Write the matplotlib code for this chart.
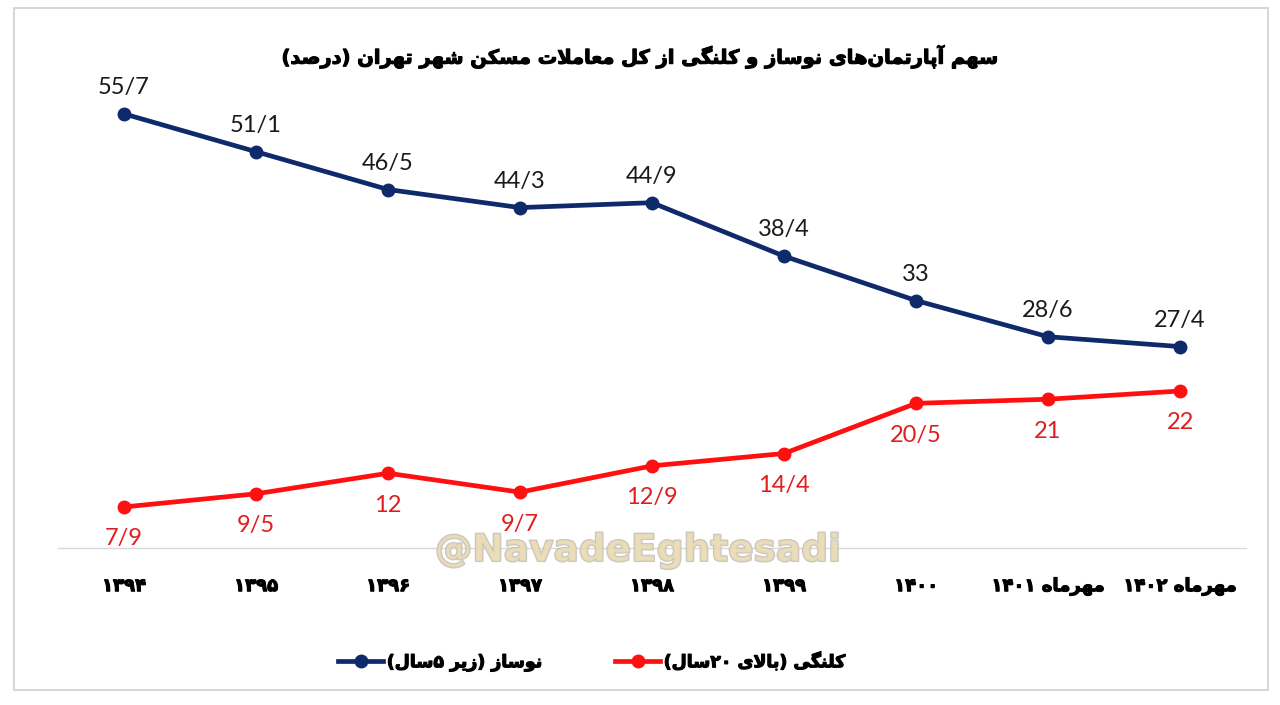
import re
import matplotlib
matplotlib.use('Agg')
import matplotlib.pyplot as plt
import matplotlib.patheffects as pe
from matplotlib.patches import Rectangle

# ---- data ----
categories = ['۱۳۹۴', '۱۳۹۵', '۱۳۹۶', '۱۳۹۷', '۱۳۹۸', '۱۳۹۹', '۱۴۰۰', 'مهرماه ۱۴۰۱', 'مهرماه ۱۴۰۲']
new_vals = [55.7, 51.1, 46.5, 44.3, 44.9, 38.4, 33, 28.6, 27.4]
old_vals = [7.9, 9.5, 12, 9.7, 12.9, 14.4, 20.5, 21, 22]
new_name = 'نوساز (زیر ۵سال)'
old_name = 'کلنگی (بالای ۲۰سال)'
title = 'سهم آپارتمان\u200cهای نوساز و کلنگی از کل معاملات مسکن شهر تهران (درصد)'

NAVY = '#0f2a6b'
RED = '#ff1010'


# ---- tiny persian shaper (matplotlib has no RTL/joining support) ----
def _f4(b):
    return tuple(chr(b + i) for i in range(4))


def _f2(b):
    return (chr(b), chr(b + 1), None, None)


FORMS = {
    'ا': _f2(0xFE8D), 'آ': _f2(0xFE81), 'ب': _f4(0xFE8F), 'پ': _f4(0xFB56),
    'ت': _f4(0xFE95), 'ث': _f4(0xFE99), 'ج': _f4(0xFE9D), 'چ': _f4(0xFB7A),
    'ح': _f4(0xFEA1), 'خ': _f4(0xFEA5), 'د': _f2(0xFEA9), 'ذ': _f2(0xFEAB),
    'ر': _f2(0xFEAD), 'ز': _f2(0xFEAF), 'ژ': _f2(0xFB8A), 'س': _f4(0xFEB1),
    'ش': _f4(0xFEB5), 'ص': _f4(0xFEB9), 'ض': _f4(0xFEBD), 'ط': _f4(0xFEC1),
    'ظ': _f4(0xFEC5), 'ع': _f4(0xFEC9), 'غ': _f4(0xFECD), 'ف': _f4(0xFED1),
    'ق': _f4(0xFED5), 'ک': _f4(0xFB8E), 'گ': _f4(0xFB92), 'ل': _f4(0xFEDD),
    'م': _f4(0xFEE1), 'ن': _f4(0xFEE5), 'ه': _f4(0xFEE9), 'و': _f2(0xFEED),
    'ی': _f4(0xFBFC),
}


def _joins_next(c):
    return c in FORMS and FORMS[c][2] is not None


def shape(s):
    out = []
    i = 0
    n = len(s)
    while i < n:
        c = s[i]
        if c not in FORMS:
            if c != '\u200c':
                out.append(c)
            i += 1
            continue
        jp = i > 0 and _joins_next(s[i - 1])
        if c == 'ل' and i + 1 < n and s[i + 1] in 'اآ':
            base = 0xFEFB if s[i + 1] == 'ا' else 0xFEF5
            out.append(chr(base + (1 if jp else 0)))
            i += 2
            continue
        jn = _joins_next(c) and i + 1 < n and s[i + 1] in FORMS
        f = FORMS[c]
        if jp and jn:
            g = f[3]
        elif jp:
            g = f[1]
        elif jn:
            g = f[2]
        else:
            g = f[0]
        out.append(g)
        i += 1
    return ''.join(out)


def fa(s):
    toks = re.findall(r'[0-9۰-۹]+|.', shape(s))
    toks.reverse()
    swap = {'(': ')', ')': '('}
    return ''.join(swap.get(t, t) for t in toks)


heavy = [pe.withStroke(linewidth=0.8, foreground='black')]

# ---- figure ----
fig = plt.figure(figsize=(12.8, 7.05), dpi=100)
fig.patch.set_facecolor('white')
fig.patches.append(Rectangle((14 / 1280, 1 - 690 / 705), 1254 / 1280, 682 / 705,
                             transform=fig.transFigure, fill=False,
                             edgecolor='#d0d0d0', linewidth=1.2))

ax = fig.add_axes([58 / 1280, 157 / 705, 1188 / 1280, 458 / 705])
ax.set_xlim(-0.5, len(categories) - 0.5)
ax.set_ylim(2.91, 58.6)
for s in ['top', 'right', 'left']:
    ax.spines[s].set_visible(False)
ax.spines['bottom'].set_color('#d9d9d9')
ax.spines['bottom'].set_linewidth(1.0)
ax.set_yticks([])

x = list(range(len(categories)))
ax.plot(x, new_vals, color=NAVY, lw=3.4, marker='o', ms=9, label=fa(new_name), zorder=3)
ax.plot(x, old_vals, color=RED, lw=3.4, marker='o', ms=9, label=fa(old_name), zorder=3)

for xi, v in zip(x, new_vals):
    ax.annotate(f'{v:g}'.replace('.', '/'), (xi, v), xytext=(0, 19), textcoords='offset points',
                ha='center', va='center', fontsize=17, family='Lato', color='#1a1a1a')
for xi, v in zip(x, old_vals):
    ax.annotate(f'{v:g}'.replace('.', '/'), (xi, v), xytext=(0, -23), textcoords='offset points',
                ha='center', va='center', fontsize=17, family='Lato', color='#e01e1e')

ax.set_xticks(x)
ax.set_xticklabels([fa(c) for c in categories], fontsize=13, fontweight='bold',
                   family=['DejaVu Sans'])
for t in ax.get_xticklabels():
    t.set_path_effects(heavy)
ax.tick_params(axis='x', length=0, pad=21)

# watermark handle
fig.text(638 / 1280, 1 - 551 / 705, '@NavadeEghtesadi', ha='center', va='center',
         fontsize=27, fontweight='bold', family='DejaVu Sans', color='#eadcb4', alpha=0.8,
         path_effects=[pe.withStroke(linewidth=1.5, foreground='#b8b8b8')], zorder=0)

fig.text(642 / 1280, 1 - 57 / 705, fa(title), ha='center', va='center',
         fontsize=14, fontweight='bold', family=['DejaVu Sans'], color='black',
         path_effects=heavy)

leg = fig.legend(loc='center', bbox_to_anchor=(592 / 1280, 1 - 662 / 705), ncol=2,
                 frameon=False, prop={'family': 'DejaVu Sans', 'weight': 'bold', 'size': 12.5},
                 handlelength=2.6, columnspacing=4.2, handletextpad=0.2)
for t in leg.get_texts():
    t.set_path_effects(heavy)

fig.savefig('out.png', dpi=100, facecolor='white')
